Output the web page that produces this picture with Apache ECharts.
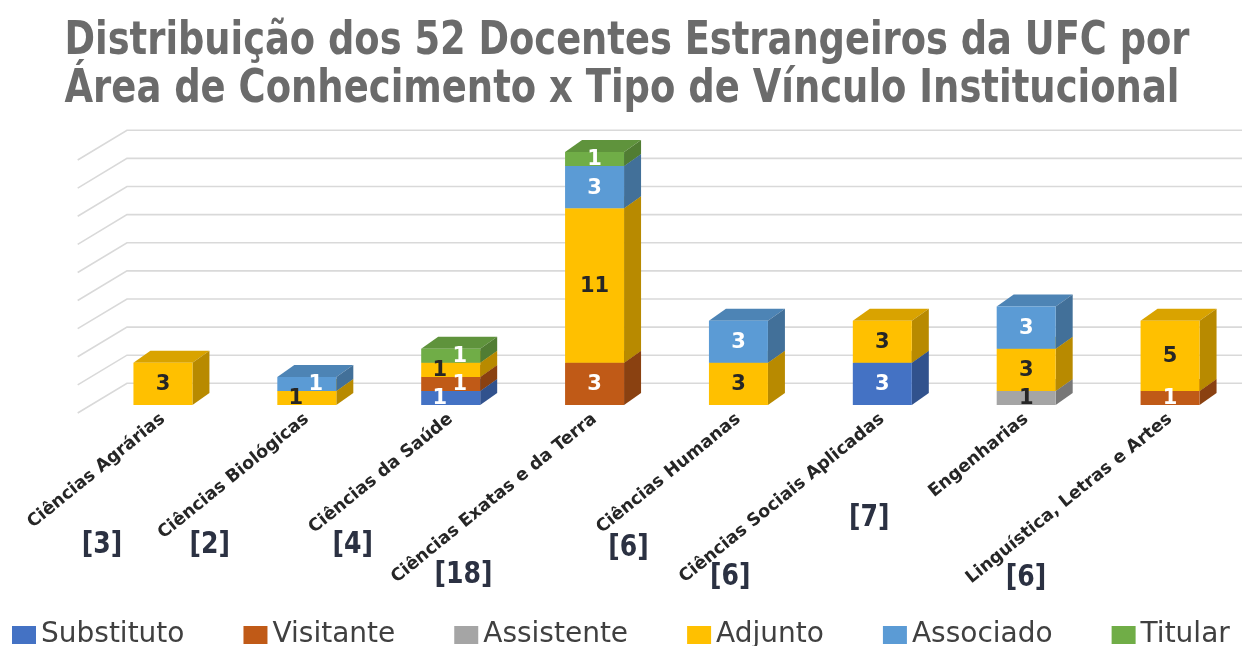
<!DOCTYPE html>
<html><head><meta charset="utf-8">
<script src="https://cdn.jsdelivr.net/npm/echarts@6/dist/echarts.min.js"></script>
<style>html,body{margin:0;padding:0;background:#fff}#c{width:1242px;height:646px}</style>
</head><body><div id="c"></div>
<script>
// ---------- DATA ----------
const categories = ['Ciências Agrárias','Ciências Biológicas','Ciências da Saúde','Ciências Exatas e da Terra','Ciências Humanas','Ciências Sociais Aplicadas','Engenharias','Linguística, Letras e Artes'];
const totals = [3, 2, 4, 18, 6, 6, 7, 6];
const seriesNames = ['Substituto','Visitante','Assistente','Adjunto','Associado','Titular'];
const substituto = [0, 0, 1, 0, 0, 3, 0, 0];
const visitante  = [0, 0, 1, 3, 0, 0, 0, 1];
const assistente = [0, 0, 0, 0, 0, 0, 1, 0];
const adjunto    = [3, 1, 1, 11, 3, 3, 3, 5];
const associado  = [0, 1, 0, 3, 3, 0, 3, 0];
const titular    = [0, 0, 1, 1, 0, 0, 0, 0];
const yTicks = [0, 2, 4, 6, 8, 10, 12, 14, 16, 18];
const titleLines = ['Distribuição dos 52 Docentes Estrangeiros da UFC por', 'Área de Conhecimento x Tipo de Vínculo Institucional'];

// ---------- STYLE / LAYOUT ----------
const seriesValues = [substituto, visitante, assistente, adjunto, associado, titular];
const colors = ['#4472C4', '#C05A17', '#A5A5A5', '#FFC000', '#5B9BD5', '#70AD47'];
const labelColors = ['#ffffff', '#ffffff', '#262626', '#262626', '#ffffff', '#ffffff'];
const BAR_RATIO = 0.41, BAR_DX = 17, BAR_DY = -12;
const WALL_BACK = [36, -21.7], WALL_FRONT = [-13.3, 8];
const bracketDX = [-61, -97, -98, -131, -110, -152, -157, -144];
const bracketDY = [140, 140, 140, 170, 143, 172, 113, 173];

function shade(hex, f) {
  const n = parseInt(hex.slice(1), 16);
  const r = Math.round(((n >> 16) & 255) * f), g = Math.round(((n >> 8) & 255) * f), b = Math.round((n & 255) * f);
  return 'rgb(' + r + ',' + g + ',' + b + ')';
}

// font detection
const cv = document.createElement('canvas').getContext('2d');
function measure(font, txt) { cv.font = font; return cv.measureText(txt).width; }
function hasFont(name) {
  const t = 'abcdefghijklmnopqrstuvwxyz0123456789';
  return measure('40px "' + name + '", monospace', t) !== measure('40px monospace', t);
}
const condensed = ['Liberation Sans Narrow', 'DejaVu Sans Condensed', 'Roboto Condensed'].find(hasFont) || 'DejaVu Sans';

// stacked segments
const segData = seriesValues.map(() => []);
for (let c = 0; c < categories.length; c++) {
  let acc = 0;
  const vis = [];
  for (let s = 0; s < seriesValues.length; s++) if (seriesValues[s][c] > 0) vis.push(s);
  vis.forEach((s, k) => {
    const v = seriesValues[s][c];
    const prev = k > 0 ? seriesValues[vis[k - 1]][c] : 0;
    const next = k < vis.length - 1 ? seriesValues[vis[k + 1]][c] : 0;
    let off = 0;
    if (v === 1 && (prev === 1 || next === 1)) off = (k % 2 === 0) ? -11 : 9;
    segData[s].push([c, acc, acc + v, v, off]);
    acc += v;
  });
}

function barRender(sIdx) {
  return function (params, api) {
    const cat = api.value(0), s = api.value(1), e = api.value(2), val = api.value(3), off = api.value(4);
    const p0 = api.coord([cat, s]), p1 = api.coord([cat, e]);
    const w = api.size([1, 0])[0] * BAR_RATIO;
    const x0 = p0[0] - w / 2, x1 = x0 + w, yb = p0[1], yt = p1[1];
    const col = colors[sIdx];
    return {
      type: 'group',
      children: [
        { type: 'polygon', z2: sIdx * 10, shape: { points: [[x0, yt], [x0 + BAR_DX, yt + BAR_DY], [x1 + BAR_DX, yt + BAR_DY], [x1, yt]] }, style: { fill: shade(col, 0.85) } },
        { type: 'polygon', z2: sIdx * 10 + 1, shape: { points: [[x1, yt], [x1 + BAR_DX, yt + BAR_DY], [x1 + BAR_DX, yb + BAR_DY], [x1, yb]] }, style: { fill: shade(col, 0.72) } },
        { type: 'rect', z2: sIdx * 10 + 2, shape: { x: x0, y: yt, width: w, height: yb - yt }, style: { fill: col } },
        { type: 'text', z2: 1000, style: { text: String(val), x: (x0 + x1) / 2 + off, y: (yt + yb) / 2 + 1, align: 'center', verticalAlign: 'middle', textAlign: 'center', textVerticalAlign: 'middle', fill: labelColors[sIdx], font: 'bold 21px "DejaVu Sans", sans-serif' } }
      ]
    };
  };
}

const series = [{
  type: 'custom', silent: true, z: 1,
  data: yTicks.map(v => [0, v]),
  renderItem: function (params, api) {
    const y = api.coord([0, api.value(1)])[1];
    const left = params.coordSys.x;
    return {
      type: 'polyline',
      shape: { points: [[left + WALL_FRONT[0], y + WALL_FRONT[1]], [left + WALL_BACK[0], y + WALL_BACK[1]], [1250, y + WALL_BACK[1]]] },
      style: { stroke: '#d9d9d9', lineWidth: 1.6, fill: null }
    };
  }
}];
seriesNames.forEach((name, i) => {
  series.push({
    type: 'custom', name: name, z: 2,
    itemStyle: { color: colors[i] },
    data: segData[i],
    renderItem: barRender(i)
  });
});

const chart = echarts.init(document.getElementById('c'), null, { renderer: 'canvas' });
chart.setOption({
  animation: false,
  backgroundColor: '#ffffff',
  grid: { left: 91, width: 1164, top: 152, bottom: 241 },
  xAxis: {
    type: 'category', data: categories,
    axisLine: { show: false }, axisTick: { show: false }, splitLine: { show: false },
    axisLabel: { interval: 0, rotate: 39, margin: 12, fontSize: 17.5, fontWeight: 'bold', color: '#262626', fontFamily: 'DejaVu Sans' }
  },
  yAxis: { type: 'value', min: 0, max: 18, interval: 2, show: false },
  legend: {
    data: seriesNames, icon: 'rect', itemWidth: 24, itemHeight: 18, itemGap: 59,
    left: 12, top: 621, width: 1230, padding: 0,
    textStyle: { fontSize: 28, color: '#404040', fontFamily: 'DejaVu Sans' }
  },
  series: series
});

// title + bracket labels as text graphics
const graphics = [];
const titleFont = 'bold 46px "' + condensed + '"';
const titleTargets = [[627, 19, 1125], [622, 67, 1115]];
titleLines.forEach((t, i) => {
  const sx = titleTargets[i][2] / measure(titleFont, t);
  graphics.push({ type: 'text', x: titleTargets[i][0], y: titleTargets[i][1], scaleX: sx, silent: true,
    style: { text: t, x: 0, y: 0, font: titleFont, fill: '#6b6b6b', align: 'center', textAlign: 'center', verticalAlign: 'top', textVerticalAlign: 'top' } });
});
const brFont = 'bold 30px "' + condensed + '"';
const brScale = 58 / measure(brFont, '[18]');
const baseY = chart.convertToPixel({ yAxisIndex: 0 }, 0);
totals.forEach((t, i) => {
  const cx = chart.convertToPixel({ xAxisIndex: 0 }, i);
  graphics.push({ type: 'text', x: cx + bracketDX[i], y: baseY + bracketDY[i], scaleX: brScale, silent: true,
    style: { text: '[' + t + ']', x: 0, y: 0, font: brFont, fill: '#2b3142', align: 'center', textAlign: 'center', verticalAlign: 'middle', textVerticalAlign: 'middle' } });
});
chart.setOption({ graphic: graphics });
</script>
</body></html>
